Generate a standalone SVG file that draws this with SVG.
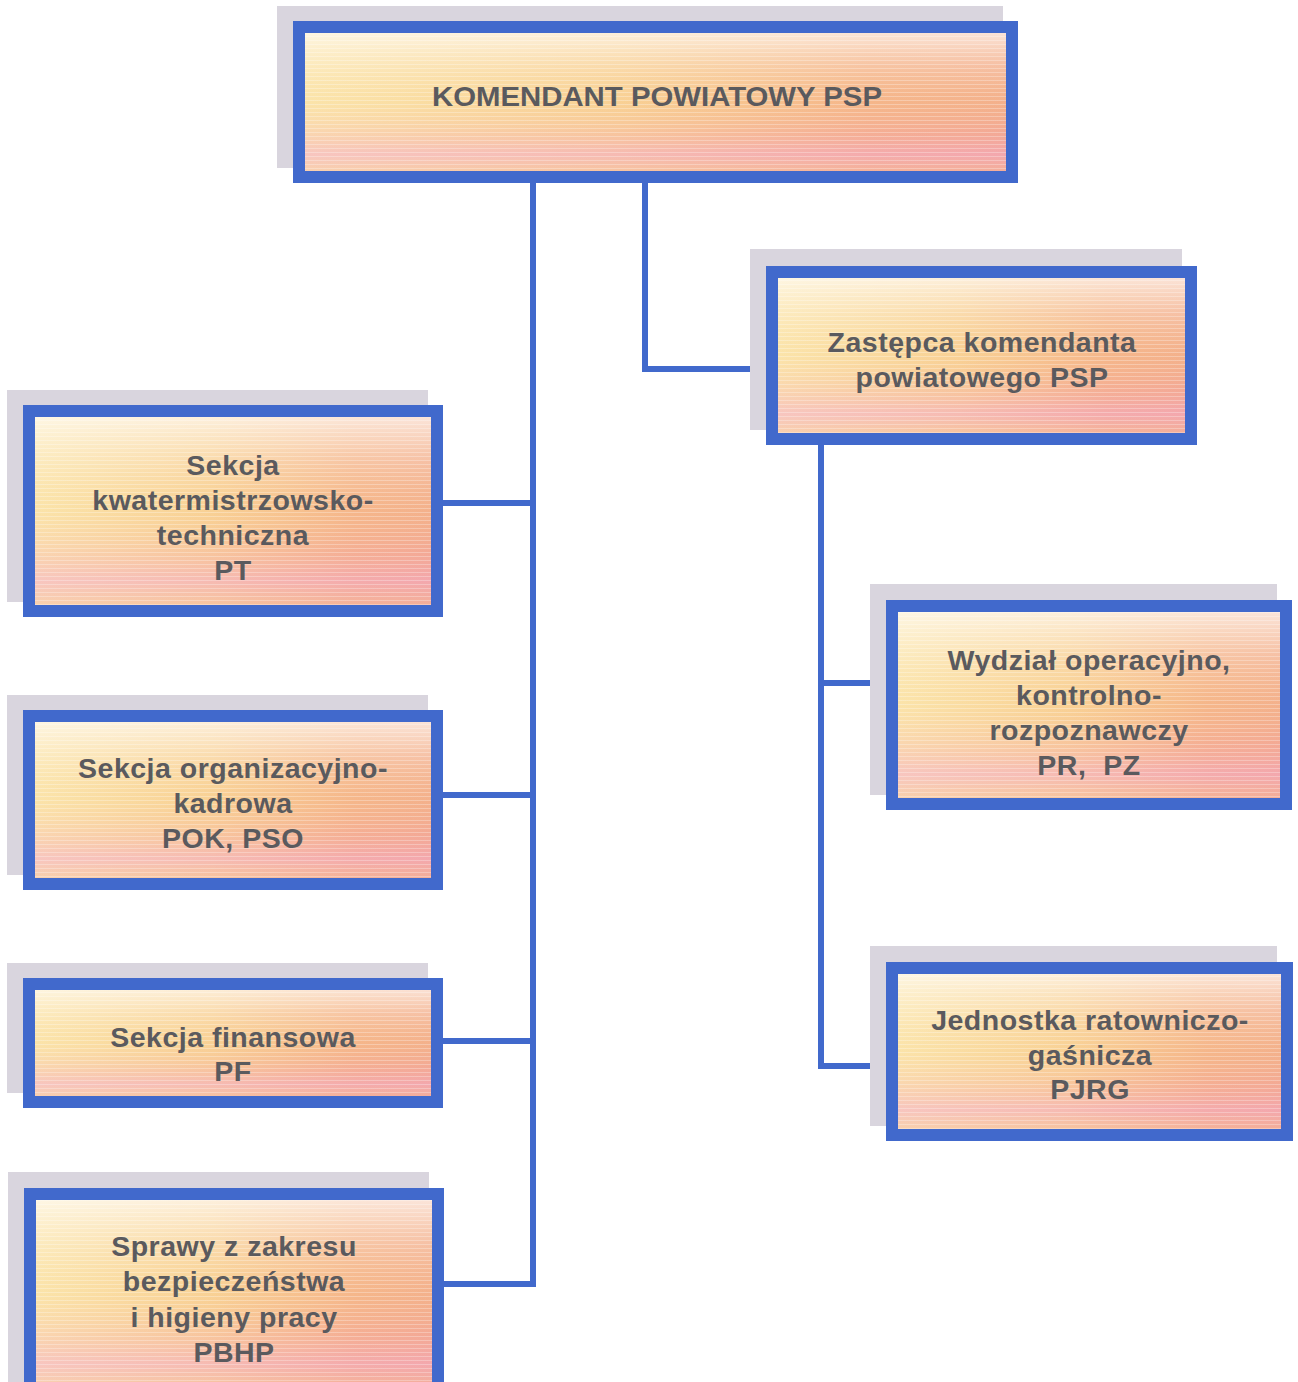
<svg xmlns="http://www.w3.org/2000/svg" width="1298" height="1382" viewBox="0 0 1298 1382">
<defs>
<linearGradient id="gh" x1="0" y1="0" x2="1" y2="0">
<stop offset="0" stop-color="#fbe6b0"/>
<stop offset="0.45" stop-color="#f8cf96"/>
<stop offset="0.8" stop-color="#f4b08a"/>
<stop offset="1" stop-color="#f2a98c"/>
</linearGradient>
<linearGradient id="gv" x1="0" y1="0" x2="0" y2="1">
<stop offset="0" stop-color="#ffffff" stop-opacity="0.75"/>
<stop offset="0.25" stop-color="#fff6e0" stop-opacity="0.3"/>
<stop offset="0.5" stop-color="#fbd98a" stop-opacity="0.15"/>
<stop offset="0.7" stop-color="#f6a8b0" stop-opacity="0.25"/>
<stop offset="0.85" stop-color="#f4a6d0" stop-opacity="0.5"/>
<stop offset="1" stop-color="#f6b8a0" stop-opacity="0.4"/>
</linearGradient>
<pattern id="stripes" width="8" height="4" patternUnits="userSpaceOnUse">
<rect width="8" height="1" fill="#ffffff" fill-opacity="0.28"/>
</pattern>
<style>
.sh{fill:#d9d5de}
.bx{stroke:#4169cc;stroke-width:12}
.fa{fill:url(#gh)}
.fb{fill:url(#gv)}
.fc{fill:url(#stripes)}
.t{font-family:"Liberation Sans",Arial,sans-serif;font-weight:bold;font-size:28.5px;letter-spacing:0.5px;fill:#5a5a5e;text-anchor:middle;white-space:pre}
.c{stroke:#4169cc;stroke-width:6;fill:none;stroke-linejoin:miter}
</style>
</defs>
<rect width="1298" height="1382" fill="#ffffff"/>

<g id="connectors">
<path class="c" d="M533,183 V1284 M443,503 H533 M443,795 H533 M443,1041 H533 M444,1284 H536"/>
<path class="c" d="M645,183 V369 H766"/>
<path class="c" d="M821,445 V1066 H886 M821,683 H886"/>
</g>

<g id="n-komendant">
<rect class="sh" x="277" y="6" width="726" height="162"/>
<rect class="fa" x="299" y="27" width="713" height="150"/>
<rect class="fb" x="299" y="27" width="713" height="150"/>
<rect class="fc" x="299" y="27" width="713" height="150"/>
<rect class="bx" fill="none" x="299" y="27" width="713" height="150"/>
<text class="t" x="657" y="106" textLength="450" lengthAdjust="spacingAndGlyphs" style="letter-spacing:0">KOMENDANT POWIATOWY PSP</text>
</g>

<g id="n-zastepca">
<rect class="sh" x="750" y="249" width="432" height="181"/>
<rect class="fa" x="772" y="272" width="419" height="167"/>
<rect class="fb" x="772" y="272" width="419" height="167"/>
<rect class="fc" x="772" y="272" width="419" height="167"/>
<rect class="bx" fill="none" x="772" y="272" width="419" height="167"/>
<text class="t" x="982" y="352">Zastępca komendanta</text>
<text class="t" x="982" y="387">powiatowego PSP</text>
</g>

<g id="n-kwatermistrz">
<rect class="sh" x="7" y="390" width="421" height="212"/>
<rect class="fa" x="29" y="411" width="408" height="200"/>
<rect class="fb" x="29" y="411" width="408" height="200"/>
<rect class="fc" x="29" y="411" width="408" height="200"/>
<rect class="bx" fill="none" x="29" y="411" width="408" height="200"/>
<text class="t" x="233" y="475">Sekcja</text>
<text class="t" x="233" y="510">kwatermistrzowsko-</text>
<text class="t" x="233" y="545">techniczna</text>
<text class="t" x="233" y="580">PT</text>
</g>

<g id="n-organizacyjno">
<rect class="sh" x="7" y="695" width="421" height="180"/>
<rect class="fa" x="29" y="716" width="408" height="168"/>
<rect class="fb" x="29" y="716" width="408" height="168"/>
<rect class="fc" x="29" y="716" width="408" height="168"/>
<rect class="bx" fill="none" x="29" y="716" width="408" height="168"/>
<text class="t" x="233" y="778">Sekcja organizacyjno-</text>
<text class="t" x="233" y="813">kadrowa</text>
<text class="t" x="233" y="848">POK, PSO</text>
</g>

<g id="n-finansowa">
<rect class="sh" x="7" y="963" width="421" height="130"/>
<rect class="fa" x="29" y="984" width="408" height="118"/>
<rect class="fb" x="29" y="984" width="408" height="118"/>
<rect class="fc" x="29" y="984" width="408" height="118"/>
<rect class="bx" fill="none" x="29" y="984" width="408" height="118"/>
<text class="t" x="233" y="1047">Sekcja finansowa</text>
<text class="t" x="233" y="1081">PF</text>
</g>

<g id="n-bhp">
<rect class="sh" x="8" y="1172" width="421" height="210"/>
<rect class="fa" x="30" y="1194" width="408" height="200"/>
<rect class="fb" x="30" y="1194" width="408" height="200"/>
<rect class="fc" x="30" y="1194" width="408" height="200"/>
<rect class="bx" fill="none" x="30" y="1194" width="408" height="200"/>
<text class="t" x="234" y="1256">Sprawy z zakresu</text>
<text class="t" x="234" y="1291">bezpieczeństwa</text>
<text class="t" x="234" y="1327">i higieny pracy</text>
<text class="t" x="234" y="1362">PBHP</text>
</g>

<g id="n-wydzial">
<rect class="sh" x="870" y="584" width="407" height="211"/>
<rect class="fa" x="892" y="606" width="394" height="198"/>
<rect class="fb" x="892" y="606" width="394" height="198"/>
<rect class="fc" x="892" y="606" width="394" height="198"/>
<rect class="bx" fill="none" x="892" y="606" width="394" height="198"/>
<text class="t" x="1089" y="670">Wydział operacyjno,</text>
<text class="t" x="1089" y="705">kontrolno-</text>
<text class="t" x="1089" y="740">rozpoznawczy</text>
<text class="t" x="1089" y="775">PR,  PZ</text>
</g>

<g id="n-jrg">
<rect class="sh" x="870" y="946" width="407" height="180"/>
<rect class="fa" x="892" y="968" width="395" height="167"/>
<rect class="fb" x="892" y="968" width="395" height="167"/>
<rect class="fc" x="892" y="968" width="395" height="167"/>
<rect class="bx" fill="none" x="892" y="968" width="395" height="167"/>
<text class="t" x="1090" y="1030">Jednostka ratowniczo-</text>
<text class="t" x="1090" y="1065">gaśnicza</text>
<text class="t" x="1090" y="1099">PJRG</text>
</g>
</svg>
